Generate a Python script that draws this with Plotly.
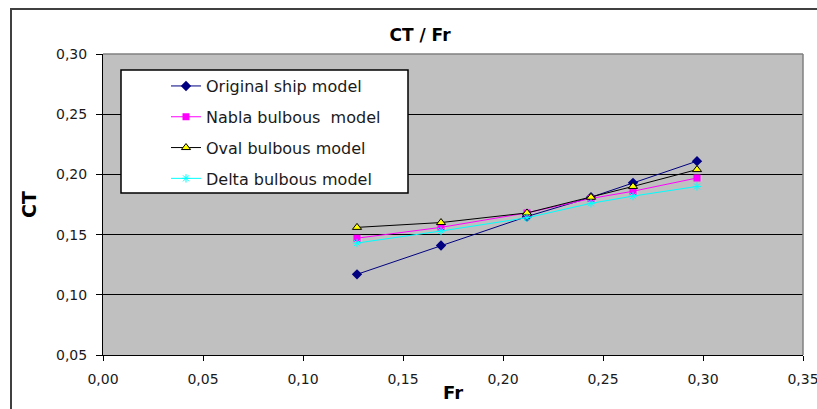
import plotly.graph_objects as go

fr = [0.127, 0.169, 0.212, 0.244, 0.265, 0.297]
ct_original = [0.117, 0.141, 0.165, 0.181, 0.193, 0.211]
ct_nabla = [0.147, 0.156, 0.168, 0.180, 0.186, 0.197]
ct_oval = [0.156, 0.160, 0.168, 0.181, 0.190, 0.204]
ct_delta = [0.143, 0.153, 0.164, 0.176, 0.182, 0.190]

names = ["Original ship model", "Nabla bulbous  model", "Oval bulbous model", "Delta bulbous model"]

fig = go.Figure()
fig.add_trace(go.Scatter(x=fr, y=ct_original, name=names[0], mode="lines+markers",
                         line=dict(color="#000080", width=1),
                         marker=dict(symbol="diamond", size=8, color="#000080"),
                         legendgroup="a"))
fig.add_trace(go.Scatter(x=fr, y=ct_nabla, name=names[1], mode="lines+markers",
                         line=dict(color="#FF00FF", width=1),
                         marker=dict(symbol="square", size=7, color="#FF00FF"),
                         legendgroup="b"))
fig.add_trace(go.Scatter(x=fr, y=ct_oval, name=names[2], mode="lines+markers",
                         line=dict(color="#000000", width=1),
                         marker=dict(symbol="triangle-up", size=8, color="#FFFF00",
                                     line=dict(color="#000000", width=1)),
                         legendgroup="c"))
fig.add_trace(go.Scatter(x=fr, y=ct_delta, name=names[3], mode="lines+markers",
                         line=dict(color="#00FFFF", width=1),
                         marker=dict(symbol="asterisk-open", size=7,
                                     line=dict(color="#00FFFF", width=1)),
                         legendgroup="d"))

tickfont = dict(family="DejaVu Sans", size=14, color="#1a1a1a")

fig.update_layout(
    width=817, height=409,
    margin=dict(l=103, r=14, t=54, b=54, autoexpand=False),
    paper_bgcolor="white",
    plot_bgcolor="#C0C0C0",
    separators=", ",
    title=dict(text="<b>CT / Fr</b>", x=420/817, xanchor="center", y=1-35/409,
               yref="container", yanchor="middle",
               font=dict(family="DejaVu Sans", size=17, color="#000000")),
    xaxis=dict(range=[0, 0.35], dtick=0.05, tick0=0, tickformat=".2f",
               showgrid=False, zeroline=False, showline=True, linecolor="#000000",
               linewidth=1, ticks="outside", ticklen=5, tickcolor="#000000",
               tickfont=tickfont, ticklabelstandoff=6, ticklabeloverflow="allow",
               automargin=False,
               title=dict(text="<b>Fr</b>", standoff=0,
                          font=dict(family="DejaVu Sans", size=18, color="#000000"))),
    yaxis=dict(range=[0.05, 0.30], dtick=0.05, tick0=0.05, tickformat=".2f",
               showgrid=True, gridcolor="#000000", gridwidth=1, zeroline=False,
               showline=True, linecolor="#000000", linewidth=1,
               ticks="outside", ticklen=6, tickcolor="#000000",
               tickfont=tickfont, ticklabelstandoff=6, automargin=False,
               title=dict(text="<b>CT</b>", standoff=14,
                          font=dict(family="DejaVu Sans", size=19, color="#000000"))),
    legend=dict(x=0.09, y=0.95, xanchor="left", yanchor="top",
                bgcolor="rgba(0,0,0,0)", borderwidth=0,
                traceorder="grouped", tracegroupgap=7,
                font=dict(family="DejaVu Sans", size=16, color="#1a1a1a")),
    shapes=[
        dict(type="rect", xref="paper", yref="paper", x0=(121-103)/700, x1=(408-103)/700,
             y0=(355-193)/301, y1=(355-70)/301, fillcolor="white",
             line=dict(color="#000000", width=1.5), layer="above"),
        dict(type="line", xref="paper", yref="paper", x0=0, x1=1, y0=1, y1=1,
             line=dict(color="#808080", width=1.5), layer="above"),
        dict(type="line", xref="paper", yref="paper", x0=1, x1=1, y0=0, y1=1,
             line=dict(color="#808080", width=1.5), layer="above"),
        dict(type="rect", xref="paper", yref="paper", x0=(11-103)/700, x1=1.2,
             y0=-0.5, y1=(355-9)/301, line=dict(color="#404040", width=2),
             fillcolor="rgba(0,0,0,0)", layer="below"),
    ],
)

fig.write_html("out.html", config={"displayModeBar": False},
               post_script="document.body.style.margin='0';document.body.style.overflow='hidden';")
